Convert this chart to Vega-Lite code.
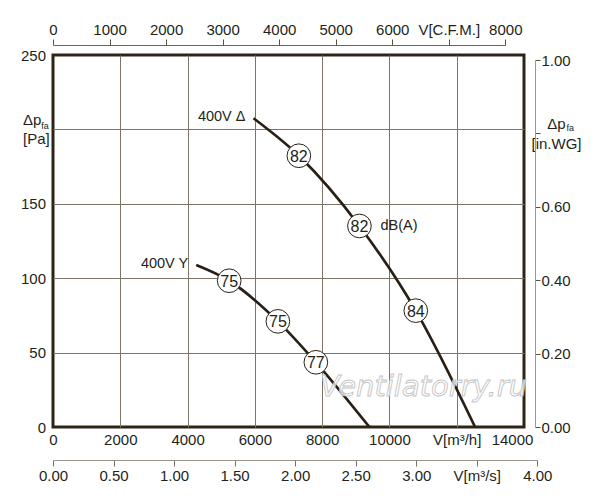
{
  "$schema": "https://vega.github.io/schema/vega-lite/v6.json",
  "width": 471,
  "height": 372,
  "autosize": {"type": "none"},
  "padding": {"left": 53, "top": 55, "right": 76, "bottom": 73},
  "background": "white",
  "config": {
    "view": {"stroke": "#2e2416", "strokeWidth": 3},
    "font": "Liberation Sans",
    "axis": {
      "labelFont": "Liberation Sans",
      "labelFontSize": 15,
      "labelColor": "#231f1a",
      "labelOverlap": false,
      "labelFlush": false,
      "labelBound": false,
      "labelLineHeight": 19.5,
      "title": null
    }
  },
  "datasets": {
    "curves": [
      {"s": "D", "q": 5959, "p": 207.5},
      {"s": "D", "q": 7308, "p": 182.3},
      {"s": "D", "q": 9108, "p": 135.1},
      {"s": "D", "q": 10783, "p": 78.2},
      {"s": "D", "q": 12545, "p": 0},
      {"s": "Y", "q": 4257, "p": 108.9},
      {"s": "Y", "q": 5237, "p": 98.3},
      {"s": "Y", "q": 6684, "p": 71.0},
      {"s": "Y", "q": 7813, "p": 43.5},
      {"s": "Y", "q": 9405, "p": 0}
    ],
    "circles": [
      {"q": 7308, "p": 182.3, "db": "82"},
      {"q": 9108, "p": 135.1, "db": "82"},
      {"q": 10783, "p": 78.2, "db": "84"},
      {"q": 5237, "p": 98.3, "db": "75"},
      {"q": 6684, "p": 71.0, "db": "75"},
      {"q": 7813, "p": 43.5, "db": "77"}
    ],
    "curveLabels": [
      {"q": 5959, "p": 207.5, "t": "400V Δ"},
      {"q": 4257, "p": 108.9, "t": "400V Y"}
    ],
    "dbLabel": [{"q": 9108, "p": 135.1, "t": "dB(A)"}],
    "watermark": [{"q": 11015, "p": 20.8, "t": "Ventilatorry.ru"}],
    "subLeft": [{"q": 0, "p": 200, "t": "fa"}],
    "subRight": [{"q": 14000, "p": 197.2, "t": "fa"}],
    "cfm": [{"cfm": 0}, {"cfm": 8000}],
    "m3s": [{"qs": 0}, {"qs": 4}],
    "inwg": [{"w": 0}, {"w": 1}]
  },
  "layer": [
    {
      "data": {"name": "curves"},
      "mark": {"type": "line", "color": "#2a1f14", "strokeWidth": 2.7, "interpolate": "monotone"},
      "encoding": {
        "x": {
          "field": "q", "type": "quantitative",
          "scale": {"domain": [0, 14000], "nice": false, "zero": false},
          "axis": {
            "orient": "bottom",
            "values": [0, 2000, 4000, 6000, 8000, 10000, 12000, 14000],
            "format": "d",
            "domain": false,
            "ticks": false,
            "tickSize": 0,
            "labelPadding": 5,
            "grid": true,
            "gridColor": "#7d7468",
            "gridWidth": 1,
            "gridOpacity": {"condition": {"test": "datum.value == 0 || datum.value == 14000", "value": 0}, "value": 1},
            "labelOffset": {"condition": {"test": "datum.value == 14000", "value": -12}, "value": 0},
            "labelExpr": "datum.value == 12000 ? 'V[m³/h]' : datum.label"
          }
        },
        "y": {
          "field": "p", "type": "quantitative",
          "scale": {"domain": [0, 250], "nice": false, "zero": false},
          "axis": {
            "orient": "left",
            "values": [0, 50, 100, 150, 200, 250],
            "format": "d",
            "domain": false,
            "ticks": false,
            "tickSize": 0,
            "labelPadding": {"condition": {"test": "datum.value == 200", "value": 30.5}, "value": 7.5},
            "labelAlign": {"condition": {"test": "datum.value == 200", "value": "left"}, "value": "right"},
            "labelOffset": {"condition": {"test": "datum.value == 200", "value": -10}, "value": 0},
            "grid": true,
            "gridColor": "#7d7468",
            "gridWidth": 1,
            "gridOpacity": {"condition": {"test": "datum.value == 0 || datum.value == 250", "value": 0}, "value": 1},
            "labelExpr": "datum.value == 200 ? ['Δp', '[Pa]'] : datum.label"
          }
        },
        "detail": {"field": "s", "type": "nominal"}
      }
    },
    {
      "data": {"name": "watermark"},
      "mark": {"type": "text", "font": "DejaVu Sans", "fontSize": 29, "fontStyle": "italic", "fill": "#ffffff", "fillOpacity": 0.75, "stroke": "#c4c4c4", "strokeWidth": 0.9, "align": "center", "baseline": "alphabetic"},
      "encoding": {
        "x": {"field": "q", "type": "quantitative", "scale": {"domain": [0, 14000], "nice": false, "zero": false}, "axis": null},
        "y": {"field": "p", "type": "quantitative", "scale": {"domain": [0, 250], "nice": false, "zero": false}, "axis": null},
        "text": {"field": "t"}
      }
    },
    {
      "data": {"name": "circles"},
      "mark": {"type": "circle", "size": 560, "color": "white", "opacity": 1, "stroke": "#2a1f14", "strokeWidth": 1},
      "encoding": {
        "x": {"field": "q", "type": "quantitative", "scale": {"domain": [0, 14000], "nice": false, "zero": false}, "axis": null},
        "y": {"field": "p", "type": "quantitative", "scale": {"domain": [0, 250], "nice": false, "zero": false}, "axis": null}
      }
    },
    {
      "data": {"name": "circles"},
      "mark": {"type": "text", "fontSize": 16, "color": "#231f1a", "align": "center", "baseline": "middle", "dy": 1},
      "encoding": {
        "x": {"field": "q", "type": "quantitative", "scale": {"domain": [0, 14000], "nice": false, "zero": false}, "axis": null},
        "y": {"field": "p", "type": "quantitative", "scale": {"domain": [0, 250], "nice": false, "zero": false}, "axis": null},
        "text": {"field": "db"}
      }
    },
    {
      "data": {"name": "curveLabels"},
      "mark": {"type": "text", "fontSize": 14.5, "color": "#231f1a", "align": "right", "baseline": "middle", "dx": -8, "dy": -1},
      "encoding": {
        "x": {"field": "q", "type": "quantitative", "scale": {"domain": [0, 14000], "nice": false, "zero": false}, "axis": null},
        "y": {"field": "p", "type": "quantitative", "scale": {"domain": [0, 250], "nice": false, "zero": false}, "axis": null},
        "text": {"field": "t"}
      }
    },
    {
      "data": {"name": "dbLabel"},
      "mark": {"type": "text", "fontSize": 14.5, "color": "#231f1a", "align": "left", "baseline": "middle", "dx": 21},
      "encoding": {
        "x": {"field": "q", "type": "quantitative", "scale": {"domain": [0, 14000], "nice": false, "zero": false}, "axis": null},
        "y": {"field": "p", "type": "quantitative", "scale": {"domain": [0, 250], "nice": false, "zero": false}, "axis": null},
        "text": {"field": "t"}
      }
    },
    {
      "data": {"name": "subLeft"},
      "mark": {"type": "text", "fontSize": 9, "color": "#231f1a", "align": "left", "baseline": "middle", "dx": -11.7, "dy": -3},
      "encoding": {
        "x": {"field": "q", "type": "quantitative", "scale": {"domain": [0, 14000], "nice": false, "zero": false}, "axis": null},
        "y": {"field": "p", "type": "quantitative", "scale": {"domain": [0, 250], "nice": false, "zero": false}, "axis": null},
        "text": {"field": "t"}
      }
    },
    {
      "data": {"name": "subRight"},
      "mark": {"type": "text", "fontSize": 9, "color": "#231f1a", "align": "left", "baseline": "middle", "dx": 42.5, "dy": -5.5},
      "encoding": {
        "x": {"field": "q", "type": "quantitative", "scale": {"domain": [0, 14000], "nice": false, "zero": false}, "axis": null},
        "y": {"field": "p", "type": "quantitative", "scale": {"domain": [0, 250], "nice": false, "zero": false}, "axis": null},
        "text": {"field": "t"}
      }
    },
    {
      "data": {"name": "cfm"},
      "mark": {"type": "point", "opacity": 0},
      "encoding": {
        "x": {
          "field": "cfm", "type": "quantitative",
          "scale": {"domain": [0, 8000], "range": [0, 452.3], "nice": false, "zero": false},
          "axis": {
            "orient": "top",
            "offset": 10,
            "values": [0, 1000, 2000, 3000, 4000, 5000, 6000, 7000, 8000],
            "format": "d",
            "domainColor": "#6e655a",
            "tickColor": "#5a5044",
            "tickSize": 6,
            "labelPadding": 2,
            "grid": false,
            "labelExpr": "datum.value == 7000 ? 'V[C.F.M.]' : datum.label"
          }
        }
      }
    },
    {
      "data": {"name": "m3s"},
      "mark": {"type": "point", "opacity": 0},
      "encoding": {
        "x": {
          "field": "qs", "type": "quantitative",
          "scale": {"domain": [0, 4], "range": [0, 484.3], "nice": false, "zero": false},
          "axis": {
            "orient": "bottom",
            "offset": 33,
            "values": [0, 0.5, 1, 1.5, 2, 2.5, 3, 3.5, 4],
            "format": ".2f",
            "domainColor": "#9c948a",
            "tickColor": "#7a7068",
            "tickSize": 6,
            "labelPadding": 2,
            "grid": false,
            "labelExpr": "datum.value == 3.5 ? 'V[m³/s]' : datum.label"
          }
        }
      }
    },
    {
      "data": {"name": "inwg"},
      "mark": {"type": "point", "opacity": 0},
      "encoding": {
        "y": {
          "field": "w", "type": "quantitative",
          "scale": {"domain": [0, 1], "range": [372, 5], "nice": false, "zero": false},
          "axis": {
            "orient": "right",
            "offset": 11,
            "values": [0, 0.2, 0.4, 0.6, 0.8, 1],
            "format": ".2f",
            "domainColor": "#a09890",
            "tickColor": "#5a5044",
            "tickSize": 5,
            "labelPadding": {"condition": {"test": "datum.value == 0.8", "value": 16}, "value": 1},
            "labelAlign": {"condition": {"test": "datum.value == 0.8", "value": "center"}, "value": "left"},
            "labelOffset": {"condition": {"test": "datum.value == 0.8", "value": -9.5}, "value": 0},
            "grid": false,
            "labelExpr": "datum.value == 0.8 ? ['Δp\u00a0\u00a0', '[in.WG]'] : datum.label"
          }
        }
      }
    }
  ],
  "resolve": {
    "scale": {"x": "independent", "y": "independent"},
    "axis": {"x": "independent", "y": "independent"}
  }
}
